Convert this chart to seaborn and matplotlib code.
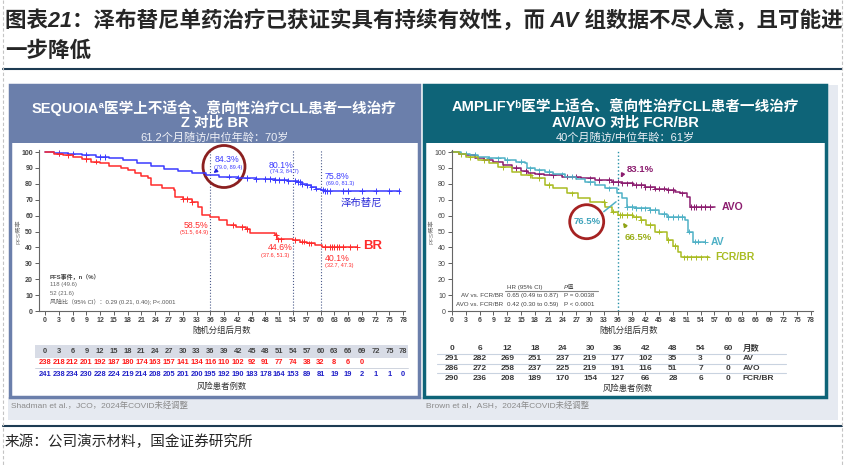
import numpy as np
import pandas as pd
import matplotlib.pyplot as plt
import matplotlib.transforms as mtrans
from matplotlib.patches import Rectangle, Circle
import seaborn as sns

# ------------------------
# Data
# ------------------------
# SEQUOIA: zanubrutinib vs BR (steps of the KM curves)
zanu_t = [0, 2, 5, 8, 11, 14, 17, 20, 23, 26, 29, 32, 35, 38, 42, 46, 50,
          53, 55, 56, 57, 58, 59, 60, 61]
zanu_s = [100, 99.5, 99, 98, 97, 96, 95, 93, 91.5, 89.5, 88, 87, 85.5, 84.5,
          83.8, 83.2, 82.5, 81.8, 81, 80, 79, 78, 77, 76, 75.5]
zanu_end = 77.3
zanu_cens = [3, 6, 9, 12, 13, 40, 42, 44, 46, 48, 49, 50, 51, 52, 53, 54.5,
             55, 55.5, 56, 57, 58, 59, 60.5, 61, 61.5, 62, 65, 66, 69, 72, 75,
             77]
br_t = [0, 2, 4, 6, 8, 10, 12, 14, 16.5, 18, 19.5, 21, 22.5, 23, 25.5, 28,
        28.3, 30, 32, 33.4, 34.1, 36, 38, 39.7, 41.5, 43.8, 44.7, 50.1, 50.5,
        54, 55.6, 57, 58.8, 60.3]
br_s = [100, 99, 98, 97, 95.5, 94, 93, 91.5, 90, 88.5, 86.6, 85, 83.4, 79.5,
        77.2, 76, 72, 70.5, 68.7, 65.6, 60.4, 59, 57.2, 54.1, 53, 51.5, 49,
        47.8, 45, 44.6, 43.6, 42.6, 41.5, 40.3]
br_end = 68
br_cens = [3, 5, 9, 11, 30, 31, 32, 41, 43, 44, 50.3, 50.8, 51.5, 54.5, 56,
           56.5, 57.5, 58, 61, 62, 62.5, 63, 63.5, 64, 65, 66.5, 68]

# AMPLIFY: AVO / AV / FCR-BR
avo_t = [0, 1.5, 3, 5, 7, 9, 11, 13, 15, 16.6, 18, 20, 24, 28, 31, 34.7,
         36.9, 39.4, 42, 44, 46.6, 48.5, 49.5, 51, 51.7]
avo_s = [100, 99, 98, 96.5, 95, 93.5, 92, 90, 88, 86.6, 86, 85.5, 84.5, 83.5,
         82.5, 81.3, 80.3, 79.2, 78, 77, 76.1, 75, 74, 71.9, 65.6]
avo_end = 57.1
avo_cens = [14, 16, 19, 22, 25, 27, 30, 32, 34, 35, 36, 37, 38, 39, 40, 41,
            42, 43, 44, 45, 46, 47, 48, 50, 52, 52.5, 53, 54, 55, 56]
av_t = [0, 2, 4, 5.7, 8, 11.5, 14, 15.9, 16.2, 18, 20.2, 22, 24.6, 27, 28.9,
        31, 33.2, 35.8, 36.9, 38, 40, 43, 45, 46.6, 50.6, 51.3, 52.4]
av_s = [100, 99, 98, 97, 96, 95, 94, 93, 89.7, 88.5, 87.6, 86, 84.5, 83,
        81.3, 79.5, 77.2, 74, 70.9, 65.6, 64.5, 63.5, 61, 59.3, 57.2, 49.9,
        43.6]
av_end = 55
av_cens = [3, 5, 8, 10, 12, 15, 17, 19, 21, 24, 26, 30, 34, 38, 39, 40, 41,
           42, 43, 44, 46, 47, 48, 49, 50, 51.5, 52.8, 53.5, 55]
fcr_t = [0, 1.5, 3, 5.7, 8, 10, 13, 15, 17.3, 20.2, 22, 25, 27.4, 30, 33.2,
         34.7, 36.1, 39.4, 41, 42.2, 44, 46.6, 48, 49.1, 49.8]
fcr_s = [100, 98.5, 97, 95, 93, 90.5, 87.6, 85.5, 83.5, 79.2, 77.5, 74, 70.9,
         68.5, 65.6, 62.5, 60.4, 59.3, 57, 54.1, 50, 44.7, 41, 37.3, 33.8]
fcr_end = 55.9
fcr_cens = [2, 4, 7, 11, 17, 19, 21, 26, 33, 35, 36.5, 37, 38, 39, 40, 41,
            43, 45, 47, 48.5, 50.5, 51, 52, 53, 54, 55.5]

# risk tables
risk_months_l = list(range(0, 79, 3))
risk_br = [238, 218, 212, 201, 192, 187, 180, 174, 163, 157, 141, 134, 116,
           110, 102, 92, 91, 77, 74, 38, 32, 8, 6, 0]
risk_zanu = [241, 238, 234, 230, 228, 224, 219, 214, 208, 205, 201, 200, 195,
             192, 190, 183, 178, 164, 153, 89, 81, 19, 19, 2, 1, 1, 0]
risk_months_r = list(range(0, 61, 6))
risk_av = [291, 282, 269, 251, 237, 219, 177, 102, 35, 3, 0]
risk_avo = [286, 272, 258, 237, 225, 219, 191, 116, 51, 7, 0]
risk_fcr = [290, 236, 208, 189, 170, 154, 127, 66, 28, 6, 0]
landmarks_l = [36, 54, 60]
landmark_r = 36

# colours
c_zanu, c_br = '#3b3bff', '#ff2b2b'
c_avo, c_av, c_fcr = '#8c1d6f', '#4fb1c6', '#a9bc22'
c_left, c_right = '#6b7fab', '#0e6478'


def km_frame(t, s, end, arm):
    return pd.DataFrame({'month': list(t) + [end],
                         'pfs': list(s) + [s[-1]], 'arm': arm})


def cens_frame(t, s, cens, arm):
    idx = np.searchsorted(t, cens, side='right') - 1
    return pd.DataFrame({'month': cens, 'pfs': np.asarray(s)[idx],
                         'arm': arm})


sns.set_theme(style='white')
plt.rcParams['font.family'] = ['Liberation Sans', 'Noto Sans CJK SC',
                               'DejaVu Sans']
plt.rcParams['axes.unicode_minus'] = False

W, H = 845, 467
fig = plt.figure(figsize=(W / 100, H / 100), dpi=100)
bg = fig.add_axes([0, 0, 1, 1])
bg.set_xlim(0, W)
bg.set_ylim(H, 0)
bg.axis('off')
bg.set_zorder(0)


def px_box(x0, y0, x1, y1):
    return [x0 / W, 1 - y1 / H, (x1 - x0) / W, (y1 - y0) / H]


# ------------------------
# Page decoration
# ------------------------
bg.text(5, 21, '图表21：泽布替尼单药治疗已获证实具有持续有效性，而 AV 组数据不尽人意，且可能进',
        fontsize=15.5, weight='bold', style='italic', va='center', ha='left')
bg.text(5, 51, '一步降低', fontsize=15.5, weight='bold', style='italic',
        va='center', ha='left')
for yy in (69, 426):
    bg.plot([3, 842], [yy, yy], color='#1d3b53', lw=1.5)
for xx in (3, 842):
    bg.plot([xx, xx], [0, H], color='#c4c4c4', lw=0.8, ls=(0, (3, 2)))

bg.add_patch(Rectangle((8, 397), 830, 23, facecolor='#e6eaf1', lw=0))
bg.add_patch(Rectangle((826, 85), 12, 312, facecolor='#e6eaf1', lw=0))
bg.text(11, 406, 'Shadman et al.，JCO，2024年COVID未经调整', fontsize=6,
        color='#8a8a8a', va='center')
bg.text(426, 406, 'Brown et al，ASH，2024年COVID未经调整', fontsize=6,
        color='#8a8a8a', va='center')
bg.text(5, 442, '来源：公司演示材料，国金证券研究所', fontsize=10.5, va='center')

# panels
for (x0, x1, col) in [(10, 419, c_left), (424, 826, c_right)]:
    bg.add_patch(Rectangle((x0, 85), x1 - x0, 312, facecolor='white',
                           edgecolor=col, lw=2.5))
    bg.add_patch(Rectangle((x0, 85), x1 - x0, 58, facecolor=col, lw=0))

cx_l, cx_r = 214.5, 625
bg.text(cx_l, 108, 'SEQUOIAª医学上不适合、意向性治疗CLL患者一线治疗', color='white',
        fontsize=10.5, weight='bold', ha='center', va='center')
bg.text(cx_l, 123, 'Z 对比 BR', color='white', fontsize=10.5, weight='bold',
        ha='center', va='center')
bg.text(cx_l, 137, '61.2个月随访/中位年龄：70岁', color='#eef0f6', fontsize=8,
        ha='center', va='center')
bg.text(cx_r, 108, 'AMPLIFYᵇ医学上适合、意向性治疗CLL患者一线治疗', color='white',
        fontsize=10.5, weight='bold', ha='center', va='center')
bg.text(cx_r, 123, 'AV/AVO 对比 FCR/BR', color='white', fontsize=10.5,
        weight='bold', ha='center', va='center')
bg.text(cx_r, 137, '40个月随访/中位年龄：61岁', color='#eef0f6', fontsize=8,
        ha='center', va='center')

# ------------------------
# KM axes
# ------------------------
ax_l = fig.add_axes(px_box(39.3, 150, 405, 311))
ax_r = fig.add_axes(px_box(448, 150, 812.7, 311))
for ax in (ax_l, ax_r):
    ax.set_zorder(1)
    ax.set_facecolor('none')
    sns.despine(ax=ax)
    for sp in ('left', 'bottom'):
        ax.spines[sp].set_color('#666666')
        ax.spines[sp].set_linewidth(0.8)
    ax.set_ylim(0, 101.3)
    ax.set_xticks(range(0, 79, 3))
    ax.set_yticks(range(0, 101, 10))
    ax.tick_params(labelsize=5, colors='#444444', length=3, width=0.6,
                   pad=1.5, direction='out', bottom=True, left=True)
    plt.setp(ax.get_xticklabels() + ax.get_yticklabels(), weight='bold')
ax_l.set_xlim(-1.24, 78.4)
ax_r.set_xlim(-0.87, 78.36)
ax_r.spines['left'].set_position(('data', 0))

# left curves
df_l = pd.concat([km_frame(zanu_t, zanu_s, zanu_end, 'zanu'),
                  km_frame(br_t, br_s, br_end, 'br')])
cens_l = pd.concat([cens_frame(zanu_t, zanu_s, zanu_cens, 'zanu'),
                    cens_frame(br_t, br_s, br_cens, 'br')])
pal_l = {'zanu': c_zanu, 'br': c_br}
sns.lineplot(data=df_l, x='month', y='pfs', hue='arm', palette=pal_l,
             drawstyle='steps-post', estimator=None, lw=1.1, legend=False,
             ax=ax_l)
sns.scatterplot(data=cens_l, x='month', y='pfs', hue='arm', palette=pal_l,
                marker='+', s=16, linewidth=0.7, legend=False, ax=ax_l)
for m in landmarks_l:
    ax_l.axvline(m, color='#4a5a8a', lw=0.8, ls=':', zorder=0)

# right curves
df_r = pd.concat([km_frame(avo_t, avo_s, avo_end, 'AVO'),
                  km_frame(av_t, av_s, av_end, 'AV'),
                  km_frame(fcr_t, fcr_s, fcr_end, 'FCR/BR')])
cens_r = pd.concat([cens_frame(avo_t, avo_s, avo_cens, 'AVO'),
                    cens_frame(av_t, av_s, av_cens, 'AV'),
                    cens_frame(fcr_t, fcr_s, fcr_cens, 'FCR/BR')])
pal_r = {'AVO': c_avo, 'AV': c_av, 'FCR/BR': c_fcr}
sns.lineplot(data=df_r, x='month', y='pfs', hue='arm', palette=pal_r,
             drawstyle='steps-post', estimator=None, lw=1.1, legend=False,
             ax=ax_r)
sns.scatterplot(data=cens_r, x='month', y='pfs', hue='arm', palette=pal_r,
                marker='+', s=16, linewidth=0.7, legend=False, ax=ax_r)
ax_r.axvline(landmark_r, color='#2591a8', lw=1, ls=':', zorder=0)
for ax in (ax_l, ax_r):
    ax.set_xlabel('')
    ax.set_ylabel('')

# ------------------------
# Left annotations
# ------------------------
ax_l.text(36.9, 95.5, '84.3%', color=c_zanu, fontsize=6.3, va='center')
ax_l.text(36.9, 90.6, '(79.0, 89.4)', color=c_zanu, fontsize=4, va='center')
ax_l.annotate('', xy=(36.2, 85.8), xytext=(37.6, 88.8),
              arrowprops=dict(arrowstyle='-|>', color='#2222dd', lw=1,
                              mutation_scale=5))
ax_l.text(48.6, 91.8, '80.1%', color=c_zanu, fontsize=6.3, va='center')
ax_l.text(48.9, 87.6, '(74.3, 84.7)', color=c_zanu, fontsize=4, va='center')
ax_l.text(61, 84.5, '75.8%', color=c_zanu, fontsize=6.3, va='center')
ax_l.text(61.2, 80.3, '(69.0, 81.3)', color=c_zanu, fontsize=4, va='center')
ax_l.text(64.3, 68.1, '泽布替尼', color='#2a2ad8', fontsize=7.5, va='center',
          family=['Noto Sans CJK SC'])
ax_l.text(35.6, 54, '58.5%', color=c_br, fontsize=6.3, va='center', ha='right')
ax_l.text(35.6, 49.5, '(51.5, 64.9)', color=c_br, fontsize=4, va='center',
          ha='right')
ax_l.text(51.2, 40, '44.6%', color=c_br, fontsize=6.3, va='center', ha='center')
ax_l.text(50.2, 35.2, '(37.6, 51.3)', color=c_br, fontsize=4, va='center',
          ha='center')
ax_l.text(61, 33.1, '40.1%', color=c_br, fontsize=6.3, va='center')
ax_l.text(61, 28.9, '(32.7, 47.3)', color=c_br, fontsize=4, va='center')
ax_l.text(69.2, 40.9, 'BR', color=c_br, fontsize=9.5, weight='bold',
          va='center')
ax_l.text(1.1, 21.4, 'PFS事件，n（%）', fontsize=4.3, weight='bold',
          color='#444444', va='center')
ax_l.text(1.1, 16.4, '118 (49.6)', fontsize=4.3, color='#666666', va='center')
ax_l.text(1.1, 10.8, '52 (21.6)', fontsize=4.3, color='#666666', va='center')
ax_l.text(1.1, 5.6, '风险比（95% CI）：0.29 (0.21, 0.40); P<.0001',
          fontsize=4.3, color='#555555', va='center')
ax_l.add_patch(Circle((224, 166.5), 21, transform=bg.transData, fill=False,
                      edgecolor='#8b2020', lw=2, clip_on=False))

# ------------------------
# Right annotations
# ------------------------
ax_r.text(37.95, 89.1, '83.1%', color=c_avo, fontsize=6.8, weight='bold',
          va='center')
ax_r.annotate('', xy=(36.4, 82.3), xytext=(37.2, 86.8),
              arrowprops=dict(arrowstyle='-|>', color=c_avo, lw=1.2,
                              mutation_scale=5))
ax_r.text(29.3, 56.2, '76.5%', color='#3fa3bb', fontsize=6.8, weight='bold',
          va='center', ha='center')
ax_r.annotate('', xy=(36.1, 69.8), xytext=(32.5, 61.4),
              arrowprops=dict(arrowstyle='-', color=c_av, lw=1.1))
ax_r.add_patch(Circle((586.7, 221.7), 17, transform=bg.transData, fill=False,
                      edgecolor='#a52222', lw=2, clip_on=False))
ax_r.text(37.4, 46.1, '66.5%', color='#9aae18', fontsize=6.8, weight='bold',
          va='center')
ax_r.annotate('', xy=(36.8, 57), xytext=(38.1, 51.6),
              arrowprops=dict(arrowstyle='-|>', color='#8fa214', lw=1.2,
                              mutation_scale=5))
ax_r.text(58.6, 65.6, 'AVO', color=c_avo, fontsize=7.5, weight='bold',
          va='center')
ax_r.text(56.3, 43.6, 'AV', color=c_av, fontsize=7.5, weight='bold',
          va='center')
ax_r.text(57.1, 34.2, 'FCR/BR', color=c_fcr, fontsize=7.5, weight='bold',
          va='center')
ax_r.text(12.0, 14.9, 'HR (95% CI)', fontsize=4.5, color='#444444',
          va='center')
ax_r.text(24.3, 14.9, 'P值', fontsize=4.5, color='#444444', va='center',
          style='italic')
ax_r.plot([11.5, 31.8], [12.8, 12.8], color='#888888', lw=0.8)
ax_r.text(11.1, 9.6, 'AV vs. FCR/BR', fontsize=4.5, color='#444444',
          va='center', ha='right')
ax_r.text(12.0, 9.6, '0.65 (0.49 to 0.87)', fontsize=4.5, color='#444444',
          va='center')
ax_r.text(24.3, 9.6, 'P = 0.0038', fontsize=4.5, color='#444444', va='center')
ax_r.text(11.1, 4.4, 'AVO vs. FCR/BR', fontsize=4.5, color='#444444',
          va='center', ha='right')
ax_r.text(12.0, 4.4, '0.42 (0.30 to 0.59)', fontsize=4.5, color='#444444',
          va='center')
ax_r.text(24.3, 4.4, 'P < 0.0001', fontsize=4.5, color='#444444', va='center')

# ------------------------
# axis labels and risk tables
# ------------------------
for xx in (19, 432):
    bg.text(xx, 232, 'PFS概率', fontsize=4.5, color='#777777', rotation=90,
            ha='center', va='center')
for xx in (221.7, 628.3):
    bg.text(xx, 331, '随机分组后月数', fontsize=6, color='#333333',
            ha='center', va='center')
bg.text(221.7, 387, '风险患者例数', fontsize=6, color='#333333', ha='center',
        va='center')
bg.text(628.3, 389, '风险患者例数', fontsize=6, color='#333333', ha='center',
        va='center')

tr_l = mtrans.blended_transform_factory(ax_l.transData, bg.transData)
tr_r = mtrans.blended_transform_factory(ax_r.transData, bg.transData)
bg.add_patch(Rectangle((35, 345), 373, 13, facecolor='#d8dce6', lw=0))
bg.plot([35, 408], [368, 368], color='#c8cdd9', lw=0.6)
for i, m in enumerate(risk_months_l):
    ax_l.text(m, 351.5, str(m), transform=tr_l, fontsize=5.4, weight='bold',
              color='#444444', ha='center', va='center', clip_on=False)
    if i < len(risk_br):
        ax_l.text(m, 362.5, str(risk_br[i]), transform=tr_l, fontsize=5.4,
                  weight='bold', color='#ff1a1a', ha='center', va='center',
                  clip_on=False)
    ax_l.text(m, 374, str(risk_zanu[i]), transform=tr_l, fontsize=5.4,
              weight='bold', color='#2020c8', ha='center', va='center',
              clip_on=False)

for yy in (354, 363.7, 373.3):
    bg.plot([437, 786], [yy, yy], color='#c9d3e0', lw=0.8)
rows_r = [(349, [str(m) for m in risk_months_r], '月数'),
          (359, [str(v) for v in risk_av], 'AV'),
          (368.5, [str(v) for v in risk_avo], 'AVO'),
          (378, [str(v) for v in risk_fcr], 'FCR/BR')]
for yy, vals, lab in rows_r:
    for m, v in zip(risk_months_r, vals):
        ax_r.text(m, yy, v, transform=tr_r, fontsize=6, weight='bold',
                  color='#3a3a3a', ha='center', va='center', clip_on=False)
    bg.text(743, yy, lab, fontsize=6, weight='bold', color='#3a3a3a',
            ha='left', va='center')

fig.savefig('out.png', dpi=100)
plt.close('all')
